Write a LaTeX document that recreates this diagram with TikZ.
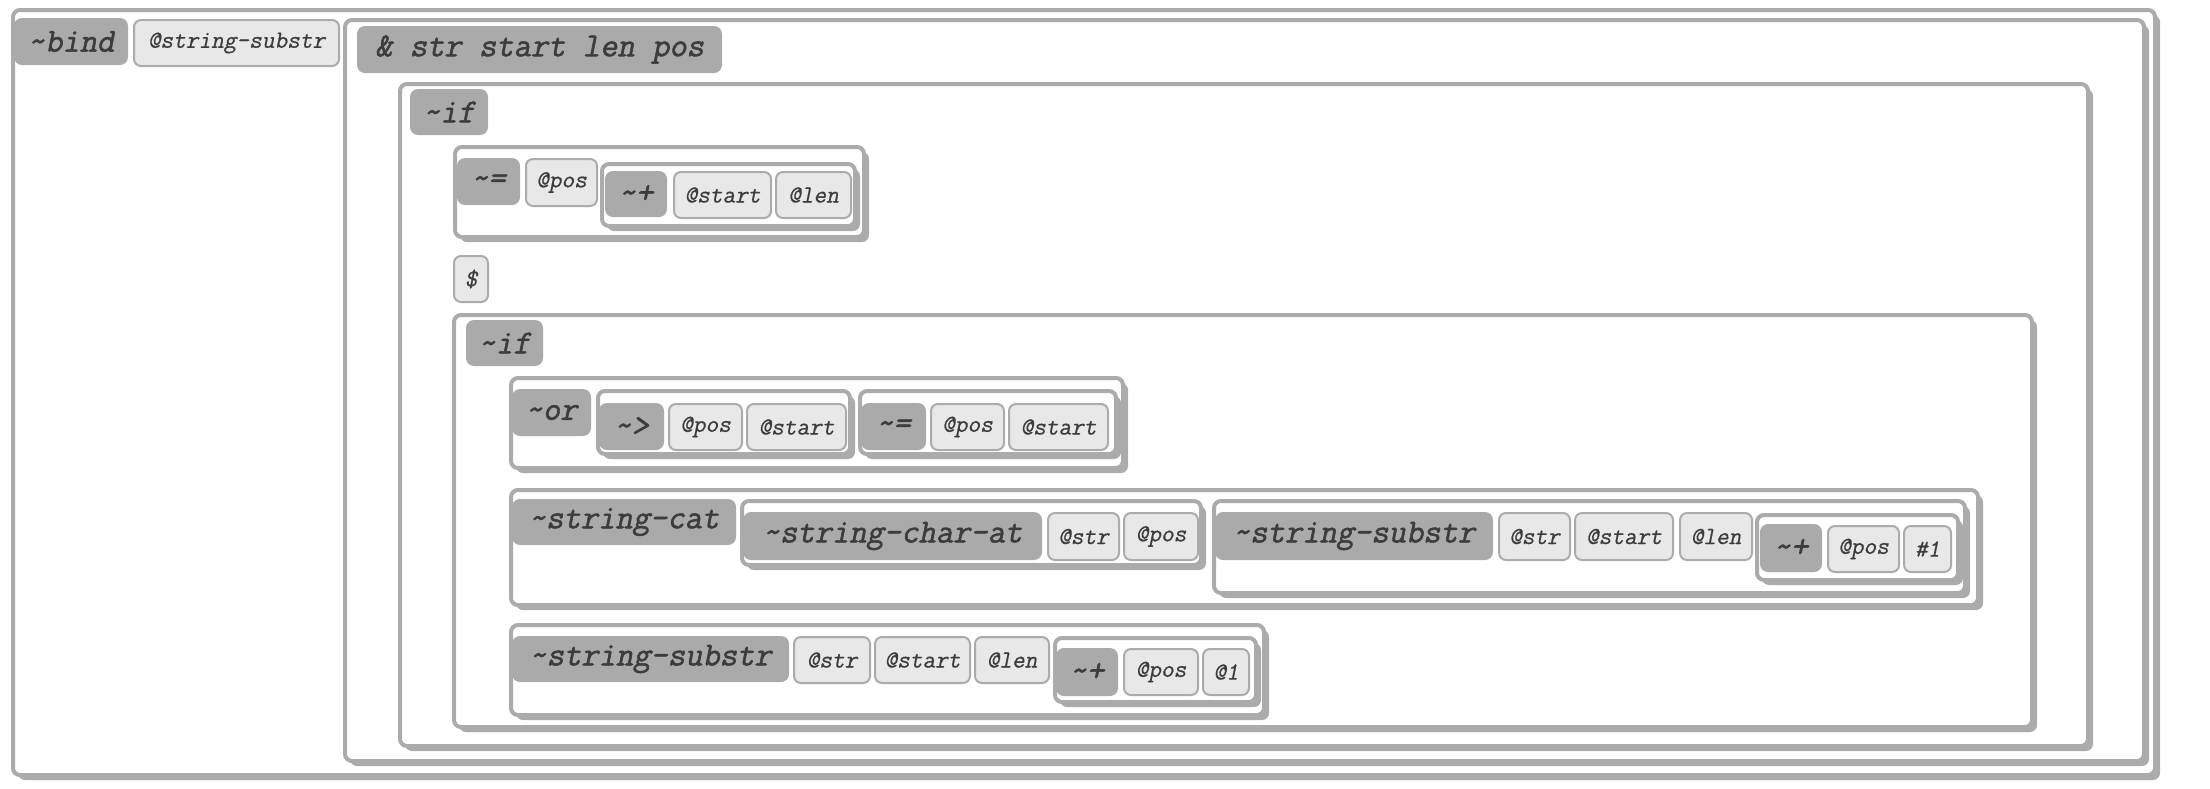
\documentclass[tikz,border=0pt]{standalone}
\usepackage{fontspec}
\newfontfamily\hdrfont{Latin Modern Mono}[FakeBold=1.6, FakeSlant=0.2]
\newfontfamily\atmfont{Latin Modern Mono}[FakeBold=0.6, FakeSlant=0.2]
\usetikzlibrary{shadows}
\definecolor{boxc}{HTML}{ABABAB}
\definecolor{hdrc}{HTML}{AAAAAA}
\definecolor{atomc}{HTML}{E8E8E8}
\definecolor{txtc}{HTML}{3C3C3C}
\tikzset{
  boxs/.style={draw=boxc, line width=2pt, fill=white, rounded corners=3.5pt, inner sep=0pt, outer sep=0pt,
    general shadow={fill=boxc, shadow xshift=2.5pt, shadow yshift=-2.5pt}},
  hdrs/.style={fill=hdrc, rounded corners=4pt, inner sep=0pt, outer sep=0pt, text=txtc,
    font=\hdrfont\fontsize{16.8}{18}\selectfont},
  atoms/.style={draw=boxc, line width=1pt, fill=atomc, rounded corners=3.5pt, inner sep=0pt, outer sep=0pt, text=txtc,
    font=\atmfont\fontsize{12.3}{14}\selectfont}
}
\newcommand\bx[5]{\node[boxs, anchor=north west, minimum width={(#4-#2-9)*0.5pt}, minimum height={(#5-#3-9)*0.5pt}] (#1) at ({#2+2},{#3+2}) {};}
\newcommand\hd[6]{\node[hdrs, anchor=north west, minimum width={(#4-#2)*0.5pt}, minimum height={(#5-#3)*0.5pt}] (#1) at (#2,#3) {#6};}
\newcommand\at[6]{\node[atoms, anchor=north west, minimum width={(#4-#2-2)*0.5pt}, minimum height={(#5-#3-2)*0.5pt}] (#1) at ({#2+1},{#3+1}) {#6};}
\begin{document}
\begin{tikzpicture}[x=0.5pt,y=-0.5pt]
\useasboundingbox[fill=white] (0,0) rectangle (2210,788);
% bind
\bx{bindb}{11}{8}{2162}{782}
\hd{bindh}{14}{18}{128}{65}{\textasciitilde bind}
\at{bname}{133}{19}{340}{67}{@string-substr}
% lambda
\bx{lamb}{343}{18}{2151}{768}
\hd{lamh}{357}{26}{722}{73}{\& str start len pos}
% if 1
\bx{ifa}{398}{82}{2095}{753}
\hd{ifah}{410}{89}{488}{135}{\textasciitilde if}
% = pos (+ start len)
\bx{eqa}{453}{145}{871}{244}
\hd{eqah}{457}{158}{520}{205}{\textasciitilde =}
\at{eqapos}{525}{158}{598}{207}{@pos}
\bx{plusa}{600}{162}{862}{233}
\hd{plusah}{605}{171}{667}{217}{\textasciitilde +}
\at{plusastart}{673}{171}{772}{219}{@start}
\at{plusalen}{775}{171}{852}{219}{@len}
% $
\at{dollar}{453}{255}{489}{303}{\$}
% if 2
\bx{ifb}{452}{313}{2039}{734}
\hd{ifbh}{466}{320}{543}{366}{\textasciitilde if}
% or
\bx{orb}{509}{376}{1130}{475}
\hd{orh}{512}{389}{591}{436}{\textasciitilde or}
\bx{gtb}{596}{389}{857}{461}
\hd{gth}{599}{403}{664}{450}{\textasciitilde >}
\at{gtpos}{668}{403}{743}{451}{@pos}
\at{gtstart}{746}{403}{847}{451}{@start}
\bx{eqb}{858}{389}{1123}{461}
\hd{eqbh}{861}{403}{926}{450}{\textasciitilde =}
\at{eqbpos}{930}{403}{1005}{451}{@pos}
\at{eqbstart}{1008}{403}{1109}{451}{@start}
% string-cat
\bx{catb}{509}{488}{1985}{612}
\hd{cath}{512}{499}{736}{545}{\textasciitilde string-cat}
\bx{chb}{740}{499}{1208}{572}
\hd{chh}{743}{512}{1042}{560}{\textasciitilde string-char-at}
\at{chstr}{1047}{512}{1120}{561}{@str}
\at{chpos}{1123}{512}{1199}{561}{@pos}
\bx{ssa}{1212}{499}{1972}{600}
\hd{ssah}{1215}{512}{1493}{560}{\textasciitilde string-substr}
\at{ssastr}{1498}{512}{1571}{561}{@str}
\at{ssastart}{1574}{512}{1674}{561}{@start}
\at{ssalen}{1679}{512}{1753}{561}{@len}
\bx{plusb}{1755}{513}{1965}{587}
\hd{plusbh}{1760}{524}{1822}{572}{\textasciitilde +}
\at{plusbpos}{1827}{525}{1900}{573}{@pos}
\at{plusbone}{1903}{525}{1952}{573}{\#1}
% string-substr 2
\bx{ssb}{509}{623}{1271}{722}
\hd{ssbh}{512}{636}{789}{682}{\textasciitilde string-substr}
\at{ssbstr}{793}{636}{871}{684}{@str}
\at{ssbstart}{874}{636}{971}{684}{@start}
\at{ssblen}{974}{636}{1050}{684}{@len}
\bx{plusc}{1053}{636}{1263}{709}
\hd{pluscm}{1056}{648}{1118}{696}{\textasciitilde +}
\at{pluscpos}{1123}{648}{1199}{696}{@pos}
\at{pluscone}{1202}{648}{1250}{696}{@1}
\end{tikzpicture}
\end{document}
